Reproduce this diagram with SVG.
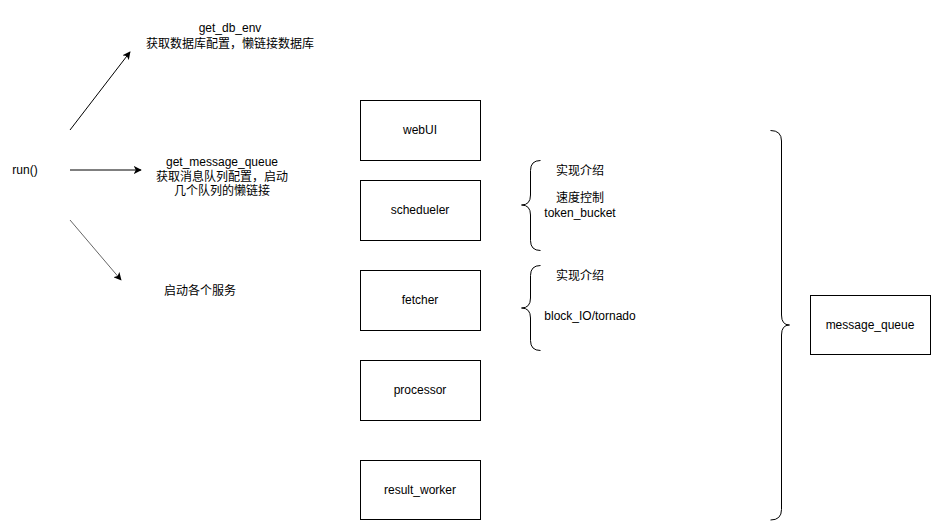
<svg xmlns="http://www.w3.org/2000/svg" width="931" height="521" viewBox="0 0 931 521">
<style>
.box{fill:#fff;stroke:#000;stroke-width:1}
.t{font-family:"Liberation Sans","Noto Sans CJK SC",Arial,sans-serif;font-size:12px;fill:#000;text-anchor:middle}
.c{fill:none;stroke:#000;stroke-width:1}
</style>
<defs>
<marker id="ah" viewBox="0 0 10 10" refX="9" refY="5" markerWidth="8" markerHeight="8" markerUnits="userSpaceOnUse" orient="auto">
<path d="M0,0 L10,5 L0,10 L2.5,5 Z" fill="#000"/>
</marker>
<marker id="ahg" viewBox="0 0 10 10" refX="9" refY="5" markerWidth="8" markerHeight="8" markerUnits="userSpaceOnUse" orient="auto">
<path d="M0,0 L10,5 L0,10 L2.5,5 Z" fill="#000"/>
</marker>
</defs>
<rect width="931" height="521" fill="#fff"/>
<g id="connectors">
<line class="c" x1="70" y1="130" x2="130" y2="52" marker-end="url(#ah)"/>
<line class="c" x1="70" y1="170" x2="141" y2="170" marker-end="url(#ah)"/>
<line class="c" x1="70" y1="220" x2="121" y2="280" stroke="#666" style="stroke:#666" marker-end="url(#ahg)"/>
</g>
<g id="run"><text class="t" x="25" y="174">run()</text></g>
<g id="get_db_env">
<text class="t" x="230" y="32">get_db_env</text>
<text class="t" x="230" y="48">获取数据库配置，懒链接数据库</text>
</g>
<g id="get_message_queue">
<text class="t" x="222" y="166">get_message_queue</text>
<text class="t" x="222" y="181">获取消息队列配置，启动</text>
<text class="t" x="222" y="195">几个队列的懒链接</text>
</g>
<g id="start_services"><text class="t" x="200" y="295">启动各个服务</text></g>
<g id="webUI"><rect class="box" x="360.5" y="100.5" width="120" height="60"/><text class="t" x="420" y="134">webUI</text></g>
<g id="schedueler"><rect class="box" x="360.5" y="180.5" width="120" height="60"/><text class="t" x="420" y="214">schedueler</text></g>
<g id="fetcher"><rect class="box" x="360.5" y="270.5" width="120" height="60"/><text class="t" x="420" y="304">fetcher</text></g>
<g id="processor"><rect class="box" x="360.5" y="360.5" width="120" height="60"/><text class="t" x="420" y="394">processor</text></g>
<g id="result_worker"><rect class="box" x="360.5" y="460.5" width="120" height="59"/><text class="t" x="420" y="494">result_worker</text></g>
<g id="message_queue"><rect class="box" x="810.5" y="295.5" width="120" height="59"/><text class="t" x="870" y="329">message_queue</text></g>
<g id="brace_scheduler">
<path class="c" d="M540.5,160.5 Q530.5,160.5 530.5,170.5 L530.5,195 Q530.5,205 521.5,205 Q530.5,205 530.5,215 L530.5,240.5 Q530.5,250.5 540.5,250.5"/>
<text class="t" x="580" y="175">实现介绍</text>
<text class="t" x="580" y="202">速度控制</text>
<text class="t" x="580" y="217">token_bucket</text>
</g>
<g id="brace_fetcher">
<path class="c" d="M540.5,265.5 Q530.5,265.5 530.5,275.5 L530.5,298 Q530.5,308 521.5,308 Q530.5,308 530.5,318 L530.5,340.5 Q530.5,350.5 540.5,350.5"/>
<text class="t" x="580" y="280">实现介绍</text>
<text class="t" x="590" y="320">block_IO/tornado</text>
</g>
<g id="brace_mq">
<path class="c" d="M770.5,130.5 Q781.5,130.5 781.5,141 L781.5,315 Q781.5,325 789.5,325 Q781.5,325 781.5,335 L781.5,509.5 Q781.5,520 770.5,520"/>
</g>
</svg>
